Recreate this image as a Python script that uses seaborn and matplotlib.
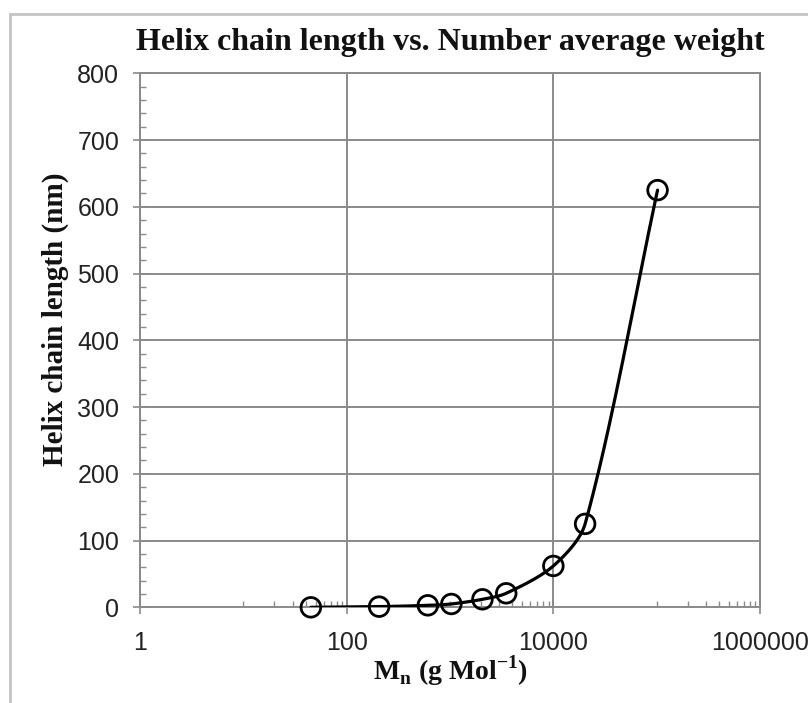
import numpy as np
import pandas as pd
import seaborn as sns
import matplotlib.pyplot as plt
from matplotlib.ticker import FixedLocator, FixedFormatter, NullFormatter
from matplotlib.patches import Rectangle

# Number-average molecular weight (g/mol) and helix chain length (nm)
mn = [45, 206, 610, 1030, 2060, 3500, 10000, 20300, 102000]
length_nm = [0, 1, 3, 5, 12, 21, 62, 125, 625]

x_major = [1, 100, 10000, 1000000]
x_major_labels = ["1", "100", "10000", "1000000"]
x_minor = ([10 * k for k in range(1, 10)] + [1000 * k for k in range(1, 10)]
           + [100000 * k for k in range(1, 10)])
y_major = [0, 100, 200, 300, 400, 500, 600, 700, 800]
y_minor = list(range(0, 801, 20))

df = pd.DataFrame({"Mn": mn, "length": length_nm})

sns.set_style("white")
plt.rcParams["font.family"] = ["Liberation Sans", "DejaVu Sans"]

GRID = "#8a8a8a"

fig = plt.figure(figsize=(8.08, 7.03), dpi=100)
ax = fig.add_axes([0.1733, 0.1361, 0.7673, 0.7596])
ax.set_xscale("log")
ax.set_xlim(1, 1000000)
ax.set_ylim(0, 800)


def smooth_curve(ax, xs, ys, n=60, tension=0.3):
    """Cubic Bezier smoothing in display space; the tangent at each point
    follows its neighbours, scaled by the length of each segment."""
    P = ax.transData.transform(np.column_stack([xs, ys]))
    npts = len(P)
    dirs = np.zeros_like(P)
    for k in range(npts):
        a = P[max(k - 1, 0)]
        b = P[min(k + 1, npts - 1)]
        v = b - a
        dirs[k] = v / np.hypot(*v)
    t = np.linspace(0, 1, n)[:, None]
    segs = []
    for k in range(npts - 1):
        p1, p2 = P[k], P[k + 1]
        L = np.hypot(*(p2 - p1))
        c1 = p1 + dirs[k] * L * tension
        c2 = p2 - dirs[k + 1] * L * tension
        seg = ((1 - t) ** 3 * p1 + 3 * (1 - t) ** 2 * t * c1
               + 3 * (1 - t) * t ** 2 * c2 + t ** 3 * p2)
        segs.append(seg if k == 0 else seg[1:])
    return ax.transData.inverted().transform(np.vstack(segs))


curve = smooth_curve(ax, df["Mn"].values, df["length"].values)
curve_df = pd.DataFrame({"Mn": curve[:, 0], "length": curve[:, 1]})

sns.lineplot(data=curve_df, x="Mn", y="length", sort=False, color="black",
             linewidth=2.3, ax=ax, zorder=3)
sns.scatterplot(data=df, x="Mn", y="length", marker="o", s=200,
                facecolors="none", edgecolor="black", linewidth=2.0,
                ax=ax, zorder=4, clip_on=False)

ax.set_xlim(1, 1000000)
ax.set_ylim(0, 800)

ax.xaxis.set_major_locator(FixedLocator(x_major))
ax.xaxis.set_major_formatter(FixedFormatter(x_major_labels))
ax.xaxis.set_minor_locator(FixedLocator(x_minor))
ax.xaxis.set_minor_formatter(NullFormatter())
ax.yaxis.set_major_locator(FixedLocator(y_major))
ax.yaxis.set_minor_locator(FixedLocator(y_minor))

ax.grid(True, which="major", color=GRID, linewidth=1.4)
for sp in ax.spines.values():
    sp.set_visible(True)
    sp.set_color(GRID)
    sp.set_linewidth(1.4)

ax.tick_params(axis="both", which="major", direction="inout", length=10,
               width=1.2, color=GRID, labelsize=18, labelcolor="#222222")
ax.tick_params(axis="y", which="major", pad=10)
ax.tick_params(axis="x", which="major", pad=12)
ax.tick_params(axis="both", which="minor", direction="in", length=4,
               width=1.0, color=GRID)
ax.tick_params(axis="x", which="major", bottom=True, top=False)
ax.tick_params(axis="x", which="minor", bottom=True, top=False)
ax.tick_params(axis="y", which="both", left=True, right=False)

ax.set_xlabel("")
ax.set_ylabel("")

serif = ["Liberation Serif", "DejaVu Serif"]
fig.text(0.557, 0.939, "Helix chain length vs. Number average weight",
         ha="center", va="center", fontsize=23, fontweight="bold",
         family=serif, color="#111111")
fig.text(0.069, 0.546, "Helix chain length (nm)", rotation=90,
         ha="center", va="center", fontsize=21, fontweight="bold",
         family=serif, color="#111111")
fig.text(0.557, 0.046, r"M$_\mathregular{n}$ (g Mol$^\mathregular{-1}$)",
         ha="center", va="center", fontsize=20, fontweight="bold",
         family=serif, color="#111111")

# light frame around the chart area
fig.patches.append(Rectangle((10 / 808, -0.05), 1.1, 1.05 - 14 / 703,
                             transform=fig.transFigure, fill=False,
                             edgecolor="#c4c4c4", linewidth=2.0,
                             clip_on=False))

fig.savefig("out.png", dpi=100)
